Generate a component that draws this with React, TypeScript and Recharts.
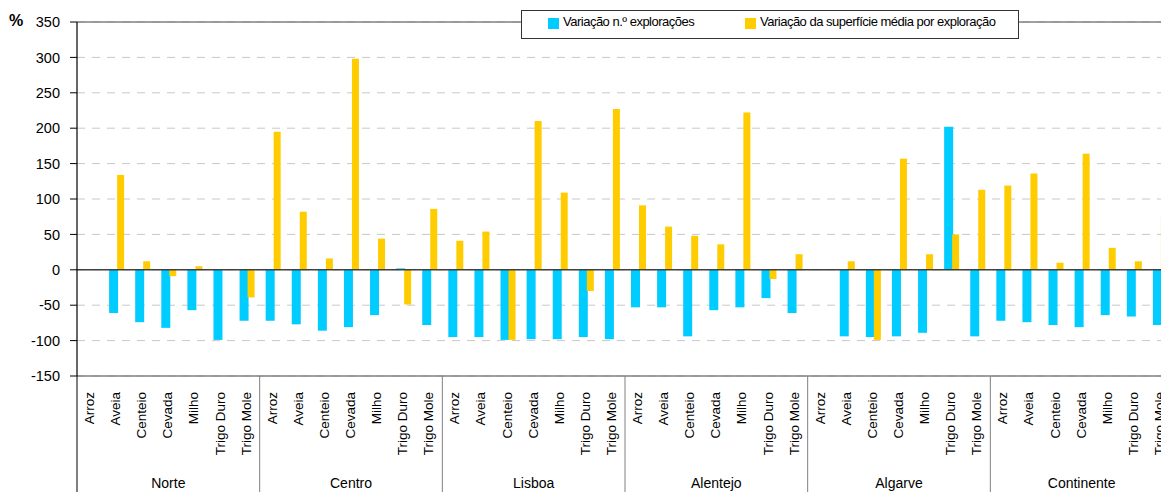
import React from 'react';
import { BarChart, Bar, XAxis, YAxis, CartesianGrid, ReferenceLine } from 'recharts';

const FONT = '"Liberation Sans", Arial, Helvetica, sans-serif';

const crops = ['Arroz', 'Aveia', 'Centeio', 'Cevada', 'Milho', 'Trigo Duro', 'Trigo Mole'];
const regions = ['Norte', 'Centro', 'Lisboa', 'Alentejo', 'Algarve', 'Continente'];
const seriesNames = ['Variação n.º explorações', 'Variação da superfície média por exploração'];
const seriesColors = ['#00CCFF', '#FFCC00'];
const yTicks = [-150, -100, -50, 0, 50, 100, 150, 200, 250, 300, 350];

// Variação n.º explorações (%)
const explNorte = [null, -61, -74, -82, -57, -99, -72];
const explCentro = [-72, -77, -86, -81, -64, 2, -78];
const explLisboa = [-95, -95, -99, -98, -98, -95, -98];
const explAlentejo = [-53, -53, -94, -57, -53, -40, -61];
const explAlgarve = [null, -94, -95, -94, -89, 202, -94];
const explContinente = [-72, -74, -78, -81, -64, -66, -78];

// Variação da superfície média por exploração (%)
const supNorte = [null, 134, 12, -9, 5, null, -39];
const supCentro = [195, 82, 16, 298, 44, -49, 86];
const supLisboa = [41, 54, -99, 210, 109, -30, 227];
const supAlentejo = [91, 61, 48, 36, 222, -13, 22];
const supAlgarve = [null, 12, -99, 157, 22, 50, 113];
const supContinente = [119, 136, 10, 164, 31, 12, 75];

const explByRegion = [explNorte, explCentro, explLisboa, explAlentejo, explAlgarve, explContinente];
const supByRegion = [supNorte, supCentro, supLisboa, supAlentejo, supAlgarve, supContinente];

const data = regions.flatMap((region, ri) =>
  crops.map((crop, ci) => ({
    key: `${region} ${crop}`,
    region,
    crop,
    expl: explByRegion[ri][ci],
    sup: supByRegion[ri][ci],
  }))
);

const CHART_W = 1200;
const CHART_H = 492;
const LEFT = 77;
const TOP = 22;
const RIGHT = 27;
const XAXIS_H = 116;
const BAND = (CHART_W - LEFT - RIGHT) / data.length;

const CropTick = (props: any) => {
  const { x, y, index } = props;
  const ci = index % crops.length;
  const ri = Math.floor(index / crops.length);
  const lx = x + 4;
  const ly = y + 16;
  return (
    <g>
      <text
        x={lx}
        y={ly}
        transform={`rotate(-90 ${lx} ${ly})`}
        textAnchor="end"
        fontSize={13.5}
        fill="#000"
        fontFamily={FONT}
      >
        {crops[ci]}
      </text>
      {ci === 0 && (
        <line
          x1={x - BAND / 2}
          x2={x - BAND / 2}
          y1={y}
          y2={y + XAXIS_H}
          stroke={ri === 0 ? '#000' : '#808080'}
          strokeWidth={1}
        />
      )}
      {ci === 3 && (
        <text x={x} y={y + 112} textAnchor="middle" fontSize={14} fill="#000" fontFamily={FONT}>
          {regions[ri]}
        </text>
      )}
    </g>
  );
};

const LegendBox = () => (
  <div
    style={{
      position: 'absolute',
      left: 521,
      top: 10,
      width: 498,
      height: 29,
      border: '1px solid #333',
      background: '#fff',
      boxSizing: 'border-box',
      fontFamily: FONT,
      fontSize: 13,
      letterSpacing: '-0.5px',
      color: '#000',
    }}
  >
    {seriesNames.map((name, i) => (
      <React.Fragment key={name}>
        <div
          style={{
            position: 'absolute',
            left: i === 0 ? 26 : 223,
            top: 7,
            width: 11,
            height: 11,
            background: seriesColors[i],
          }}
        />
        <div
          style={{
            position: 'absolute',
            left: i === 0 ? 41 : 238,
            top: 3,
            lineHeight: '15px',
            whiteSpace: 'nowrap',
          }}
        >
          {name}
        </div>
      </React.Fragment>
    ))}
  </div>
);

export default function App() {
  return (
    <div
      style={{
        position: 'absolute',
        left: 0,
        top: 0,
        width: 1161,
        height: 492,
        overflow: 'hidden',
        background: '#fff',
      }}
    >
      <BarChart
        width={CHART_W}
        height={CHART_H}
        data={data}
        margin={{ top: TOP, right: RIGHT, left: 0, bottom: 0 }}
        barGap={-1}
        barCategoryGap={0}
      >
        <CartesianGrid vertical={false} stroke="#c8c8c8" strokeDasharray="8 7" />
        <XAxis
          dataKey="key"
          interval={0}
          height={XAXIS_H}
          tickLine={false}
          tickSize={0}
          tickMargin={0}
          axisLine={{ stroke: '#808080', strokeWidth: 1.5 }}
          tick={<CropTick />}
        />
        <YAxis
          domain={[-150, 350]}
          ticks={yTicks}
          interval={0}
          width={LEFT}
          tickSize={7}
          tickMargin={10}
          axisLine={{ stroke: '#000', strokeWidth: 1.2 }}
          tickLine={{ stroke: '#000' }}
          tick={{ fontSize: 14.5, fill: '#000', fontFamily: FONT }}
          allowDataOverflow
        />
        <ReferenceLine y={350} stroke="#808080" strokeWidth={1.5} />
        <Bar dataKey="expl" name={seriesNames[0]} fill={seriesColors[0]} barSize={9} isAnimationActive={false} />
        <Bar dataKey="sup" name={seriesNames[1]} fill={seriesColors[1]} barSize={7} isAnimationActive={false} />
        <ReferenceLine y={0} stroke="#404040" strokeWidth={1.5} />
      </BarChart>
      <div
        style={{
          position: 'absolute',
          left: 9,
          top: 12,
          fontFamily: FONT,
          fontSize: 16,
          fontWeight: 'bold',
          color: '#000',
        }}
      >
        %
      </div>
      <LegendBox />
    </div>
  );
}
